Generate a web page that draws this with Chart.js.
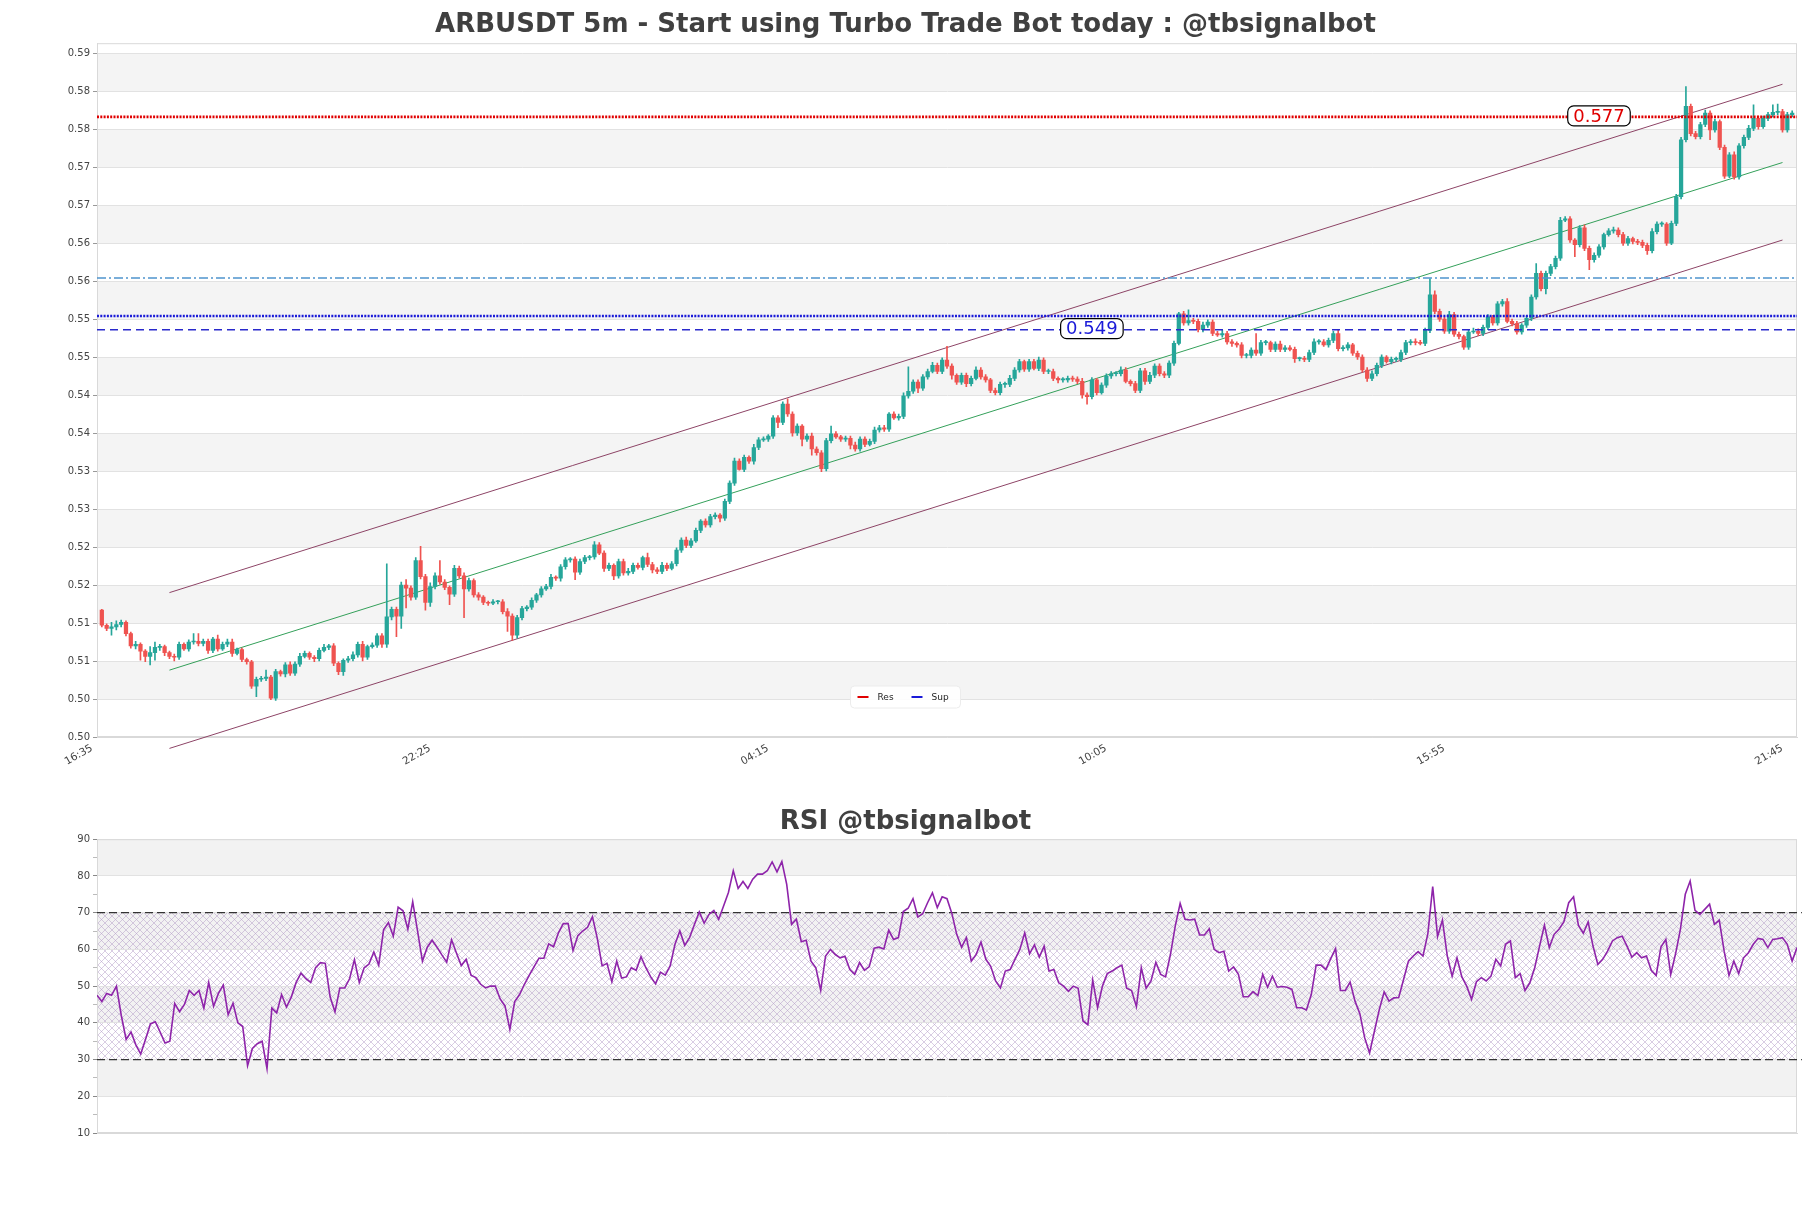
<!DOCTYPE html>
<html>
<head>
<meta charset="utf-8">
<script src="https://cdn.jsdelivr.net/npm/chart.js@4.4.1/dist/chart.umd.min.js"></script>
<style>
  html, body { margin: 0; padding: 0; background: #fff; }
  canvas { display: block; }
</style>
</head>
<body>
<canvas id="priceChart" width="1811" height="790"></canvas>
<canvas id="rsiChart" width="1811" height="418"></canvas>
<script>
// 5m candles, open of each candle = previous close
const firstOpen = 0.5117;
const closes = [
  0.5097,0.5093,0.5095,0.5098,0.5101,0.5086,0.5070,0.5072,0.5063,0.5056,
  0.5061,0.5068,0.5069,0.5061,0.5056,0.5055,0.5072,0.5066,0.5075,0.5076,
  0.5073,0.5076,0.5064,0.5079,0.5066,0.5072,0.5075,0.5060,0.5065,0.5052,
  0.5049,0.5017,0.5026,0.5027,0.5029,0.5001,0.5036,0.5033,0.5045,0.5034,
  0.5046,0.5056,0.5060,0.5055,0.5053,0.5064,0.5068,0.5070,0.5047,0.5036,
  0.5051,0.5053,0.5058,0.5072,0.5055,0.5069,0.5071,0.5083,0.5072,0.5108,
  0.5118,0.5109,0.5150,0.5146,0.5134,0.5182,0.5161,0.5127,0.5148,0.5162,
  0.5154,0.5147,0.5138,0.5172,0.5162,0.5145,0.5156,0.5137,0.5134,0.5127,
  0.5126,0.5128,0.5128,0.5115,0.5109,0.5084,0.5107,0.5119,0.5121,0.5130,
  0.5137,0.5145,0.5148,0.5160,0.5159,0.5174,0.5183,0.5184,0.5167,0.5181,
  0.5186,0.5187,0.5203,0.5192,0.5172,0.5176,0.5162,0.5181,0.5166,0.5168,
  0.5176,0.5173,0.5186,0.5177,0.5170,0.5168,0.5176,0.5172,0.5178,0.5196,
  0.5209,0.5202,0.5208,0.5222,0.5234,0.5229,0.5240,0.5242,0.5238,0.5260,
  0.5284,0.5313,0.5302,0.5318,0.5313,0.5331,0.5341,0.5342,0.5346,0.5370,
  0.5364,0.5388,0.5375,0.5350,0.5359,0.5342,0.5346,0.5329,0.5324,0.5303,
  0.5340,0.5349,0.5345,0.5342,0.5343,0.5334,0.5329,0.5342,0.5335,0.5339,
  0.5354,0.5357,0.5355,0.5375,0.5370,0.5372,0.5399,0.5405,0.5417,0.5409,
  0.5424,0.5431,0.5439,0.5431,0.5446,0.5438,0.5426,0.5417,0.5426,0.5415,
  0.5422,0.5433,0.5424,0.5420,0.5406,0.5403,0.5414,0.5414,0.5422,0.5433,
  0.5444,0.5434,0.5444,0.5435,0.5446,0.5431,0.5431,0.5422,0.5420,0.5420,
  0.5422,0.5421,0.5418,0.5400,0.5398,0.5420,0.5403,0.5413,0.5425,0.5428,
  0.5428,0.5433,0.5418,0.5415,0.5406,0.5432,0.5418,0.5426,0.5438,0.5428,
  0.5426,0.5442,0.5468,0.5507,0.5495,0.5498,0.5497,0.5486,0.5492,0.5496,
  0.5481,0.5479,0.5481,0.5470,0.5468,0.5466,0.5452,0.5452,0.5459,0.5455,
  0.5469,0.5469,0.5460,0.5467,0.5460,0.5462,0.5460,0.5448,0.5448,0.5447,
  0.5456,0.5470,0.5470,0.5466,0.5472,0.5481,0.5461,0.5462,0.5466,0.5455,
  0.5450,0.5433,0.5422,0.5428,0.5439,0.5450,0.5444,0.5447,0.5447,0.5456,
  0.5469,0.5470,0.5469,0.5468,0.5485,0.5532,0.5510,0.5500,0.5484,0.5506,
  0.5480,0.5477,0.5463,0.5483,0.5484,0.5481,0.5489,0.5503,0.5495,0.5520,
  0.5523,0.5497,0.5494,0.5483,0.5492,0.5501,0.5529,0.5560,0.5540,0.5560,
  0.5569,0.5580,0.5630,0.5632,0.5604,0.5598,0.5620,0.5593,0.5578,0.5584,
  0.5595,0.5611,0.5616,0.5617,0.5611,0.5600,0.5606,0.5602,0.5601,0.5597,
  0.5590,0.5615,0.5625,0.5625,0.5600,0.5626,0.5661,0.5736,0.5780,0.5744,
  0.5740,0.5756,0.5771,0.5749,0.5760,0.5726,0.5688,0.5716,0.5687,0.5728,
  0.5739,0.5751,0.5764,0.5753,0.5764,0.5769,0.5772,0.5773,0.5749,0.5769,
  0.5771
];
// wick length above / below the body, in ten-thousandths
const wickUp = [
  1,2,6,5,3,2,2,4,2,2, 8,7,3,2,2,3,3,2,3,10, 10,3,3,2,5,3,4,4,2,2,
  2,2,3,3,9,2,3,2,3,4, 3,4,3,2,2,3,4,2,3,2, 2,3,4,3,4,2,3,3,3,70,
  3,3,4,7,3,4,19,3,5,4, 20,3,2,4,3,4,3,2,3,2, 2,3,2,3,4,3,3,3,2,3,
  2,3,3,4,2,3,3,2,3,3, 3,2,4,3,3,3,2,3,3,4, 3,3,2,6,3,3,4,3,3,3,
  3,4,3,3,2,3,3,3,2,3, 3,4,3,3,2,4,3,3,2,3, 3,3,7,3,3,2,3,4,3,3,
  3,10,3,2,3,3,4,3,3,3, 4,3,3,2,3,3,4,32,3,3, 3,3,4,3,3,18,3,2,3,3,
  3,4,3,3,2,3,3,3,4,3, 3,2,3,3,4,3,3,3,2,3, 3,3,3,4,3,3,2,3,3,3,
  3,4,3,2,3,3,3,4,3,3, 3,3,3,2,3,14,3,3,4,3, 3,3,4,3,3,2,3,3,3,22,
  3,3,2,3,4,3,3,3,2,3, 3,4,3,3,3,3,5,3,3,2, 3,3,3,4,3,3,2,3,3,3,
  3,3,4,3,3,21,5,3,3,4, 3,3,2,3,4,3,3,3,2,3, 3,4,3,3,2,3,3,13,3,3,
  3,3,4,3,3,2,3,4,3,3, 3,2,3,4,3,3,3,2,3,3, 3,4,3,3,2,3,3,3,26,3,
  3,3,4,3,3,2,3,3,4,3, 3,4,18,3,3,3,10,10,3,3, 3
];
const wickDown = [
  2,3,9,4,3,3,3,4,12,7, 11,10,4,4,3,5,3,2,3,3, 3,3,4,3,3,2,3,4,2,3,
  3,3,14,3,3,2,3,3,4,3, 3,3,2,3,4,3,2,3,3,4, 5,3,3,3,5,3,2,3,4,4,
  4,27,16,26,4,3,3,10,5,3, 3,3,14,3,3,38,3,3,4,3, 3,2,3,3,20,7,4,3,3,3,
  3,3,2,3,3,4,3,3,10,3, 3,3,3,2,4,3,5,3,3,3, 3,2,3,3,4,3,3,3,2,3,
  3,3,3,2,3,3,3,3,5,3, 3,3,1,3,3,4,3,2,3,3, 7,3,3,4,3,9,3,8,3,4,
  3,3,2,3,3,5,3,3,3,2, 3,3,3,3,2,3,3,3,3,6, 3,3,2,3,3,3,5,3,3,4,
  3,2,3,3,3,3,3,4,3,3, 3,3,3,2,3,3,3,3,4,3, 3,3,3,4,10,3,3,2,3,3,
  3,3,2,3,3,3,4,3,3,3, 3,3,3,2,3,3,3,3,3,3, 3,2,3,3,4,3,3,3,3,3,
  3,3,3,3,3,3,2,5,3,3, 3,3,3,2,3,3,3,3,3,3, 3,3,4,3,3,3,2,3,3,3,
  3,3,3,2,3,3,3,3,3,3, 3,3,3,3,2,3,3,3,3,3, 3,2,3,3,3,3,3,3,3,7,
  3,3,3,2,3,16,3,3,13,3, 3,3,2,3,3,3,3,3,3,3, 5,3,3,3,3,2,3,3,3,3,
  3,3,3,13,3,3,3,2,3,3, 3,3,3,3,2,3,3,3,3,3, 3
];
const rsi = [
  47.5,45.8,48,47.5,50,42,35.5,37.5,34,31.5,
  35.5,39.7,40.3,37.5,34.5,35,45.3,43,45,48.8,
  47.5,48.8,44,51,44.5,48,50.3,42.2,45.3,40,
  39,28.3,33,34.3,35,27.5,44,42.7,47.7,44.3,
  47,51,53.5,52,51,55,56.4,56.2,47,43,
  49.5,49.5,52,57.2,51,55,56,59.3,55.7,65.3,
  67.3,63.6,71.5,70.5,65.5,73,65,56.8,60.6,62.5,
  60.6,58.5,56.5,62.6,59,55.6,57.3,53,52.3,50.5,
  49.5,50,50,46.5,44.6,38.2,45.8,47.7,50.5,53,
  55.3,57.6,57.6,61.5,60.7,64.5,67,67,59.7,63.7,
  65,66,68.9,63,55.5,56.2,51.2,56.8,52.2,52.5,
  55,54.3,58,55,52.5,50.6,53.8,53,55.5,
  61.4,65.0,61.1,63.2,66.8,70.2,67.1,69.5,70.6,68.2,
  71.8,75.5,81.4,76.6,78.5,76.6,79.1,80.5,80.5,81.4,
  83.8,81.1,83.9,77.7,66.8,68.2,62.1,62.5,56.8,55.0,
  48.8,58.2,60.0,58.6,57.7,58.1,54.5,53.2,56.4,54.3,
  55.3,60.3,60.6,60.1,65.2,62.7,63.2,70.3,71.2,73.8,
  68.8,69.7,72.7,75.4,71.4,74.3,73.8,69.8,64.1,60.6,
  63.2,56.8,58.6,62.0,57.3,55.4,51.4,49.5,54.1,54.5,
  57.3,60.0,64.5,58.8,61.2,57.9,60.9,54.1,54.5,50.9,
  50.0,48.6,50.0,49.4,40.5,39.5,51.6,44.1,50.0,53.4,
  54.1,55.0,55.7,49.4,48.8,44.4,55.0,49.4,51.4,56.5,
  53.2,52.5,58.6,66.4,72.5,68.2,68.0,68.2,63.9,63.9,
  65.6,60.0,59.1,59.5,54.1,
  55.2,53.2,47.1,47.1,48.5,47.4,53.2,49.7,52.7,49.7,
  49.9,49.7,49.1,44.1,44.1,43.5,47.7,55.7,55.7,54.5,
  57.5,60.2,48.8,48.8,51.1,45.9,42.5,35.9,31.8,37.7,
  43.6,48.4,45.9,46.8,46.9,51.8,56.8,58.2,59.4,58.2,
  64.3,77.1,63.5,68.0,58.2,52.7,57.7,52.5,50.0,46.4,
  51.2,52.3,51.4,52.7,57.3,55.5,61.4,62.3,52.3,53.4,
  48.8,50.9,55.0,60.9,66.6,60.5,64.1,65.5,67.5,72.7,
  74.3,66.5,64.4,67.5,60.9,55.9,57.3,59.5,62.3,63.2,
  63.6,60.9,57.9,59.1,57.7,58.2,54.3,52.9,60.7,62.7,
  53.2,58.8,65.5,75.0,78.6,70.6,69.5,70.9,72.3,66.8,
  67.9,59.5,52.9,56.8,53.4,57.7,59.1,61.4,63.0,62.7,
  60.5,62.7,62.9,63.2,61.4,56.8,60.5
];

const xTickIdx = [0, 70, 140, 210, 280, 350];
const xTickLabels = ['16:35', '22:25', '04:15', '10:05', '15:55', '21:45'];
const yTickValues = [0.495,0.500,0.505,0.510,0.515,0.520,0.525,0.530,0.535,0.540,
                     0.545,0.550,0.555,0.560,0.565,0.570,0.575,0.580,0.585];
const yTickLabels = ['0.50','0.50','0.51','0.51','0.52','0.52','0.53','0.53','0.54','0.54',
                     '0.55','0.55','0.56','0.56','0.57','0.57','0.58','0.58','0.59'];

// regression channel (start / end candle)
const channelX = [14, 348];
const channelUpper = [0.5140, 0.5809];
const channelMid = [0.5038, 0.5706];
const channelLower = [0.4935, 0.5604];

const resLevel = 0.5766;
const supLevel = 0.5504;
const supZone = 0.5486;
const upperZone = 0.5554;
const resTagAt = 310;
const supTagAt = 205;

const rsiLevels = [70, 30];

Chart.defaults.font.family = '"DejaVu Sans", sans-serif';

const xMin = -1, xMax = 351;
const opens = closes.map((c, i) => i === 0 ? firstOpen : closes[i - 1]);
const highs = closes.map((c, i) => Math.max(opens[i], c) + wickUp[i] / 10000);
const lows = closes.map((c, i) => Math.min(opens[i], c) - wickDown[i] / 10000);
const candleColors = closes.map((c, i) => c >= opens[i] ? '#26a69a' : '#ef5350');

const bandsPlugin = {
  id: 'bands',
  beforeDraw(chart, args, o) {
    const { ctx, chartArea: a, scales: { y } } = chart;
    ctx.save();
    ctx.fillStyle = o.color;
    for (let v = o.from; v < y.max - 1e-9; v += o.every) {
      const top = y.getPixelForValue(Math.min(v + o.width, y.max));
      const bot = y.getPixelForValue(v);
      ctx.fillRect(a.left, top, a.right - a.left, bot - top);
    }
    if (o.hatch) {
      const tile = document.createElement('canvas');
      tile.width = tile.height = 7;
      const g = tile.getContext('2d');
      g.strokeStyle = 'rgba(175,150,195,0.6)';
      g.lineWidth = 0.8;
      g.beginPath();
      g.moveTo(0, 0); g.lineTo(7, 7);
      g.moveTo(7, 0); g.lineTo(0, 7);
      g.stroke();
      ctx.fillStyle = ctx.createPattern(tile, 'repeat');
      const top = y.getPixelForValue(o.hatch[1]);
      const bot = y.getPixelForValue(o.hatch[0]);
      ctx.fillRect(a.left, top, a.right - a.left, bot - top);
    }
    ctx.restore();
  }
};

const framePlugin = {
  id: 'frame',
  beforeDatasetsDraw(chart) {
    const { ctx, chartArea: a } = chart;
    ctx.save();
    ctx.strokeStyle = '#d9d9d9';
    ctx.lineWidth = 1;
    ctx.strokeRect(a.left + 0.5, a.top + 0.5, a.right - a.left - 1, a.bottom - a.top - 1);
    ctx.restore();
  }
};

const levelTags = [
  { value: resLevel, at: resTagAt, color: '#e00000' },
  { value: supZone, at: supTagAt, color: '#1a1ad8' }
];

const tagPlugin = {
  id: 'levelTags',
  afterDatasetsDraw(chart) {
    const { ctx, scales: { x, y } } = chart;
    ctx.save();
    ctx.font = '18px "DejaVu Sans"';
    ctx.textAlign = 'center';
    ctx.textBaseline = 'middle';
    levelTags.forEach(t => {
      const px = x.getPixelForValue(t.at), py = y.getPixelForValue(t.value) - 1;
      const text = t.value.toFixed(3);
      const w = ctx.measureText(text).width + 11, h = 20;
      ctx.beginPath();
      ctx.roundRect(px - w / 2, py - h / 2, w, h, 6);
      ctx.fillStyle = '#fff';
      ctx.fill();
      ctx.strokeStyle = '#000';
      ctx.lineWidth = 1.2;
      ctx.stroke();
      ctx.fillStyle = t.color;
      ctx.fillText(text, px, py + 1);
    });
    ctx.restore();
  }
};

const legendItems = [
  { label: 'Res', color: '#e00000' },
  { label: 'Sup', color: '#1a1ad8' }
];

const legendPlugin = {
  id: 'miniLegend',
  afterDraw(chart) {
    const { ctx, chartArea: a } = chart;
    const cx = chart.width / 2, cy = a.bottom - 40;
    const w = 110, h = 22;
    ctx.save();
    ctx.beginPath();
    ctx.roundRect(cx - w / 2, cy - h / 2, w, h, 4);
    ctx.fillStyle = 'rgba(255,255,255,0.9)';
    ctx.fill();
    ctx.strokeStyle = '#ececec';
    ctx.lineWidth = 1;
    ctx.stroke();
    ctx.font = '9px "DejaVu Sans"';
    ctx.textBaseline = 'middle';
    legendItems.forEach((item, k) => {
      const x0 = cx - 48 + k * 54;
      ctx.strokeStyle = item.color;
      ctx.lineWidth = 2;
      ctx.beginPath();
      ctx.moveTo(x0, cy);
      ctx.lineTo(x0 + 11, cy);
      ctx.stroke();
      ctx.fillStyle = '#222';
      ctx.fillText(item.label, x0 + 20, cy + 0.5);
    });
    ctx.restore();
  }
};

const seg = (xs, ys) => xs.map((x, k) => ({ x, y: ys[k] }));
const hline = v => [{ x: xMin, y: v }, { x: xMax, y: v }];
const lineDs = (data, color, width, dash, order) => ({
  type: 'line', data, borderColor: color, borderWidth: width, borderDash: dash || [],
  pointRadius: 0, fill: false, clip: false, order
});

new Chart(document.getElementById('priceChart'), {
  type: 'bar',
  data: {
    datasets: [
      lineDs(seg(channelX, channelUpper), '#8d4466', 1, null, 5),
      lineDs(seg(channelX, channelLower), '#8d4466', 1, null, 5),
      lineDs(seg(channelX, channelMid), '#34a05a', 1, null, 5),
      {
        type: 'bar', order: 2, grouped: false, barThickness: 1, borderWidth: 0,
        data: closes.map((c, i) => ({ x: i, y: [lows[i], highs[i]] })),
        backgroundColor: candleColors
      },
      {
        type: 'bar', order: 1, grouped: false, barThickness: 3.6, borderWidth: 0, minBarLength: 1,
        data: closes.map((c, i) => ({ x: i, y: [opens[i], c] })),
        backgroundColor: candleColors
      },
      lineDs(hline(upperZone), '#4f94cd', 1.3, [9, 3, 2, 3], 0),
      lineDs(hline(supZone), '#2a2acc', 1.4, [8, 5], 0),
      lineDs(hline(supLevel), '#1a1ad8', 2.6, [2, 1.3], 0),
      lineDs(hline(resLevel), '#e00000', 2.6, [2, 1.3], 0)
    ]
  },
  options: {
    responsive: false,
    animation: false,
    events: [],
    layout: { padding: { left: 14, right: 14, top: 0, bottom: 0 } },
    plugins: {
      legend: { display: false },
      tooltip: { enabled: false },
      title: {
        display: true,
        text: 'ARBUSDT 5m - Start using Turbo Trade Bot today : @tbsignalbot',
        color: '#404040',
        font: { size: 26, weight: 'bold' },
        padding: { top: 10, bottom: 2 }
      },
      bands: { from: 0.500, width: 0.005, every: 0.010, color: '#f4f4f4' }
    },
    scales: {
      x: {
        type: 'linear', min: xMin, max: xMax, offset: false,
        afterBuildTicks: s => { s.ticks = xTickIdx.map(v => ({ value: v })); },
        afterFit: s => { s.height = 53; },
        ticks: {
          autoSkip: false, minRotation: 30, maxRotation: 30, color: '#444',
          font: { size: 10.5 }, padding: 5, labelOffset: -10,
          callback: v => xTickLabels[xTickIdx.indexOf(v)]
        },
        grid: { display: false, drawTicks: false, offset: false },
        border: { color: '#d9d9d9' }
      },
      y: {
        min: 0.495, max: 0.5863,
        afterBuildTicks: s => { s.ticks = yTickValues.map(v => ({ value: v })); },
        afterFit: s => { s.width = 83; },
        ticks: {
          autoSkip: false, color: '#444', font: { size: 10 }, padding: 3,
          callback: (v, i) => yTickLabels[i]
        },
        grid: { color: '#e2e2e2', tickColor: '#999', tickLength: 4 },
        border: { color: '#d9d9d9' }
      }
    }
  },
  plugins: [bandsPlugin, framePlugin, tagPlugin, legendPlugin]
});

new Chart(document.getElementById('rsiChart'), {
  type: 'line',
  data: {
    datasets: [
      lineDs(hline(rsiLevels[0]).map(p => ({ x: Math.max(p.x, 0), y: p.y })), '#333', 1.2, [8, 4], 1),
      lineDs(hline(rsiLevels[1]).map(p => ({ x: Math.max(p.x, 0), y: p.y })), '#333', 1.2, [8, 4], 1),
      {
        data: rsi.map((v, i) => ({ x: i, y: v })),
        borderColor: '#8e24aa', borderWidth: 1.6, pointRadius: 0, fill: false, order: 0
      }
    ]
  },
  options: {
    responsive: false,
    animation: false,
    events: [],
    layout: { padding: { left: 14, right: 14, top: 0, bottom: 0 } },
    plugins: {
      legend: { display: false },
      tooltip: { enabled: false },
      title: {
        display: true,
        text: 'RSI @tbsignalbot',
        color: '#404040',
        font: { size: 26, weight: 'bold' },
        padding: { top: 17, bottom: 1 }
      },
      bands: { from: 20, width: 10, every: 20, color: '#f2f2f2', hatch: rsiLevels.slice().reverse() }
    },
    scales: {
      x: {
        type: 'linear', min: 0, max: 350,
        ticks: { display: false },
        grid: { display: false, drawTicks: false },
        border: { color: '#d9d9d9' },
        afterFit: s => { s.height = 75; }
      },
      y: {
        min: 10, max: 90,
        afterFit: s => { s.width = 83; },
        ticks: {
          stepSize: 5, autoSkip: false, color: '#444', font: { size: 10 }, padding: 3,
          callback: v => v % 10 === 0 ? v : ''
        },
        grid: {
          color: c => c.tick && c.tick.value % 10 === 0 ? '#e2e2e2' : 'rgba(0,0,0,0)',
          tickColor: c => c.tick && c.tick.value % 10 === 0 ? '#888' : '#bbb',
          tickLength: 4
        },
        border: { color: '#d9d9d9' }
      }
    }
  },
  plugins: [bandsPlugin, framePlugin]
});
</script>
</body>
</html>
